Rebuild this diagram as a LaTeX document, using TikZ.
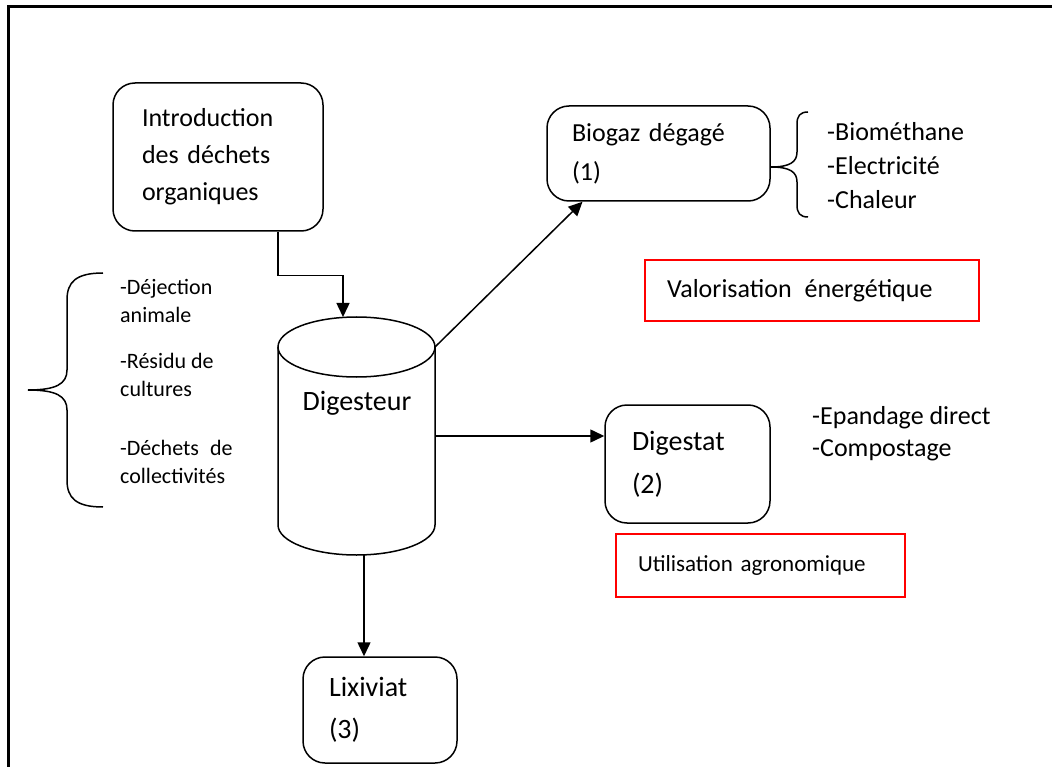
\documentclass[tikz,border=0pt]{standalone}
\usepackage{fontspec}
\setmainfont{Carlito}
\usetikzlibrary{arrows.meta}

\tikzset{
  stage/.style={draw, rounded corners=22pt, line width=1.5pt, align=left, inner ysep=0pt},
  tag/.style={draw=red, line width=1.3pt, align=left, inner ysep=0pt},
  flow/.style={line width=1.5pt, -{Triangle[width=13pt,length=14pt]}},
  brace/.style={line width=1.5pt}
}

\begin{document}
\begin{tikzpicture}[x=1pt, y=-1pt]
        \useasboundingbox (0,0) rectangle (1052,767);
        \fill[white] (0,0) rectangle (1052,767);

        % Frame (top and left only)
        \draw[line width=3pt] (1052,7) -- (8,7) -- (8,767);

        % Boxes
        \node[stage, minimum width=210pt, minimum height=148pt, inner xsep=29pt, text width=152pt,
              font=\fontsize{26}{37}\selectfont] (intro) at (218,157)
            {Introduction\\des déchets\\organiques};
        \node[stage, minimum width=223pt, minimum height=95pt, inner xsep=25pt, text width=173pt,
              font=\fontsize{26}{39}\selectfont] (bio) at (658.5,153.5)
            {Biogaz dégagé\\(1)};
        \node[stage, minimum width=165pt, minimum height=118pt, inner xsep=27pt, text width=111pt,
              font=\fontsize{28}{43}\selectfont] (dst) at (687.5,464)
            {Digestat\\(2)};
        \node[stage, minimum width=154pt, minimum height=106pt, inner xsep=26pt, text width=102pt,
              font=\fontsize{28}{42}\selectfont] (lix) at (380,710)
            {Lixiviat\\(3)};

        % Red labels
        \node[tag, minimum width=334pt, minimum height=61pt, inner xsep=22pt, text width=290pt,
              font=\fontsize{26}{30}\selectfont] (valo) at (812,290.5)
            {Valorisation\hspace{0.5em}énergétique};
        \node[tag, minimum width=289pt, minimum height=63pt, inner xsep=22pt, text width=245pt,
              font=\fontsize{23}{28}\selectfont] (agro) at (760.5,565.5)
            {Utilisation agronomique};

        % Digester drum
        \draw[line width=1.5pt] (356.5,347) ellipse [x radius=78.5pt, y radius=30pt];
        \draw[line width=1.5pt] (278,347) -- (278,525)
            arc[start angle=180, end angle=360, x radius=78.5pt, y radius=30pt] -- (435,347);
        \node[font=\fontsize{28}{34}\selectfont] (dig) at (357,403) {Digesteur};
        \coordinate (dtop) at (343,317);
        \coordinate (dtr) at (435,347);
        \coordinate (dright) at (435,436);
        \coordinate (dbot) at (364,555);

        % Lists
        \node[anchor=west, align=left, inner sep=0pt, font=\fontsize{26}{34}\selectfont] (uses) at (827,166)
            {-Biométhane\\-Electricité\\-Chaleur};
        \node[anchor=west, align=left, inner sep=0pt, font=\fontsize{26}{32}\selectfont] (spread) at (812,434)
            {-Epandage direct\\-Compostage};
        \node[anchor=west, align=left, inner sep=0pt, font=\fontsize{22}{28}\selectfont] (src1) at (120,301)
            {-Déjection\\animale};
        \node[anchor=west, align=left, inner sep=0pt, font=\fontsize{22}{28}\selectfont] (src2) at (120,375)
            {-Résidu de\\cultures};
        \node[anchor=west, align=left, inner sep=0pt, font=\fontsize{22}{28}\selectfont] (src3) at (120,461.5)
            {-Déchets\hspace{0.5em}de\\collectivités};

        % Braces
        \draw[brace] (103,273) .. controls (76,273) and (67,282) .. (67,300) -- (67,370)
            .. controls (67,384) and (56,390) .. (28,390)
            .. controls (56,390) and (67,396) .. (67,410) -- (67,480)
            .. controls (67,498) and (76,507) .. (103,507);
        \draw[brace] (808,112) .. controls (800,112) and (797,116) .. (797,124) -- (797,152)
            .. controls (797,162) and (790,167) .. ([yshift=-13.5pt]bio.east)
            .. controls (790,167) and (797,172) .. (797,182) -- (797,205)
            .. controls (797,213) and (800,217) .. (808,217);

        % Connectors
        \draw[flow] ([xshift=60pt]intro.south) -- ++(0,44) -| (dtop);
        \draw[flow] (dtr) -- ([xshift=-76pt]bio.south);
        \draw[flow] (dright) -- (dright -| dst.west);
        \draw[flow] (dbot) -- (dbot |- lix.north);
    \end{tikzpicture}
\end{document}
